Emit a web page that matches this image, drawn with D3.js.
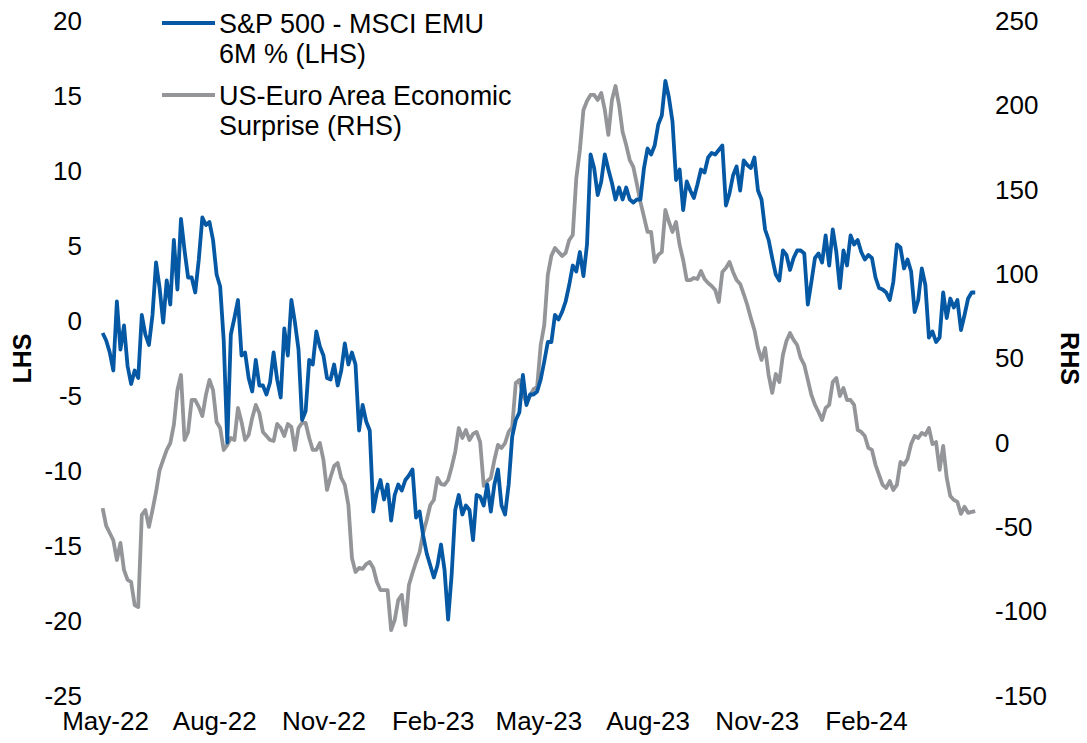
<!DOCTYPE html>
<html>
<head>
<meta charset="utf-8">
<script src="https://cdn.jsdelivr.net/npm/d3@7"></script>
<style>
  body { margin: 0; background: #fff; }
  text { font-family: "Liberation Sans", Arial, sans-serif; fill: #000; }
</style>
</head>
<body>
<div id="chart"></div>
<script>
// daily series sampled every 3 days from 29 Apr 2022
const startDate = "2022-04-29";
const stepDays = 3;

// S&P 500 - MSCI EMU 6M % (LHS)
const spread = [
  -0.8, -1.3, -2.1, -3.3, 1.3, -1.9, -0.3, -3.0, -4.2, -3.3,
  -3.8, 0.4, -0.9, -1.6, 0.4, 3.9, 2.2, -0.1, 2.7, 1.1,
  5.4, 2.1, 6.8, 4.7, 2.9, 2.9, 1.9, 4.1, 6.9, 6.4,
  6.6, 5.4, 3.1, 2.3, -1.3, -8.1, -0.9, 0.2, 1.4, -2.3,
  -2.1, -3.8, -4.7, -2.6, -4.3, -4.3, -4.9, -4.1, -2.1, -3.9,
  -5.1, -0.5, -2.3, 1.4, -0.1, -1.9, -6.6, -6.0, -2.6, -2.9,
  -0.7, -1.7, -2.3, -3.8, -3.9, -2.9, -4.3, -3.3, -1.5, -2.9,
  -2.1, -2.9, -7.3, -5.6, -6.7, -7.3, -12.7, -11.4, -10.6, -11.9,
  -10.9, -13.3, -11.6, -10.9, -11.3, -10.6, -10.3, -9.9, -13.1, -12.7,
  -14.3, -15.5, -16.3, -17.1, -16.3, -14.9, -16.6, -19.9, -16.9, -12.6,
  -11.6, -12.9, -12.3, -12.6, -14.6, -11.6, -11.7, -12.3, -10.9, -12.7,
  -10.9, -9.9, -12.3, -12.9, -10.9, -7.7, -6.6, -6.1, -3.6, -5.6,
  -4.9, -4.9, -4.7, -3.9, -2.7, -1.4, -1.4, 0.4, 0.1, 0.6,
  1.3, 2.4, 3.7, 3.3, 4.6, 3.0, 5.1, 11.1, 10.2, 8.4,
  9.3, 11.1, 10.1, 9.2, 8.1, 8.9, 8.1, 8.9, 8.1, 7.9,
  8.1, 8.1, 10.2, 11.5, 11.1, 11.7, 13.1, 13.7, 16.0, 14.9,
  13.3, 9.4, 10.1, 7.4, 9.3, 8.7, 8.2, 9.1, 10.1, 9.9,
  10.9, 11.2, 11.1, 11.4, 11.7, 7.7, 8.5, 9.7, 10.3, 8.7,
  10.7, 10.4, 10.2, 10.9, 8.7, 8.1, 6.1, 5.4, 4.2, 3.1,
  2.7, 4.7, 4.4, 3.4, 4.2, 4.7, 4.7, 4.5, 1.1, 2.6,
  4.2, 4.5, 3.9, 5.7, 3.7, 6.1, 4.6, 2.2, 4.7, 3.7,
  5.7, 5.1, 5.4, 4.6, 4.1, 4.4, 4.2, 2.9, 2.2, 2.1,
  1.9, 1.4, 2.6, 5.1, 4.9, 3.5, 4.1, 3.3, 0.6, 1.4,
  3.5, 2.4, -1.1, -0.7, -1.4, -1.1, 1.9, 0.2, 1.5, 0.9,
  1.4, -0.6, 0.4, 1.5, 1.9, 1.9
];

// US-Euro Area Economic Surprise (RHS)
const surprise = [
  -38.6, -49.2, -53.4, -57.7, -69.4, -59.3, -75.3, -81.2, -82.4, -96.1,
  -97.3, -42.7, -39.8, -49.8, -39.8, -29.1, -16.1, -10.1, -4.2, -0.1,
  10.6, 31.3, 40.2, 1.7, 6.5, 25.4, 25.4, 21.3, 15.9, 28.4,
  37.3, 31.3, 12.4, 8.8, -4.2, -1.2, 2.9, 1.7, 20.7, 12.4,
  1.7, 4.7, 14.8, 22.5, 17.7, 6.5, 4.1, 1.7, 1.1, 11.2,
  8.8, 4.1, 11.2, 9.4, -4.2, 8.8, 11.8, 11.8, 2.9, -4.2,
  -4.2, -0.1, -10.1, -27.9, -20.2, -13.7, -11.9, -20.8, -24.9, -36.8,
  -68.2, -76.5, -74.1, -74.7, -71.8, -70.6, -74.1, -82.4, -87.2, -87.2,
  -87.2, -110.9, -105.0, -93.1, -90.1, -108.0, -84.2, -77.1, -70.6, -64.7,
  -53.4, -45.7, -36.8, -33.8, -20.8, -24.4, -24.9, -22.0, -14.3, -5.3,
  8.8, 2.9, 7.6, 1.7, 5.3, 6.5, 0.5, -25.5, -22.6, -20.8,
  -10.1, -1.2, -3.0, -0.1, 6.5, 9.4, 35.5, 37.3, 29.0, 23.6,
  27.8, 31.9, 33.1, 58.0, 69.9, 99.5, 110.8, 115.5, 113.1, 110.8,
  112.5, 120.2, 123.2, 157.0, 173.6, 197.3, 202.6, 206.2, 206.2, 203.2,
  207.4, 197.3, 182.5, 203.2, 211.5, 200.2, 184.2, 176.5, 167.6, 163.5,
  153.4, 142.8, 133.9, 125.0, 125.0, 107.2, 111.4, 113.1, 138.0, 130.9,
  125.0, 130.9, 117.3, 108.4, 96.5, 96.5, 97.7, 97.1, 101.9, 97.1,
  94.7, 93.0, 90.6, 83.5, 101.3, 103.6, 107.2, 101.3, 96.5, 94.2,
  88.2, 81.7, 74.0, 66.9, 56.2, 49.1, 56.2, 40.2, 29.6, 40.8,
  36.1, 52.1, 60.4, 65.1, 61.0, 58.0, 50.3, 46.2, 37.3, 28.4,
  22.5, 18.3, 13.6, 20.7, 22.5, 36.1, 38.5, 27.8, 32.5, 25.4,
  25.4, 22.5, 7.6, 6.5, 4.1, -3.0, -4.2, -13.0, -19.0, -24.9,
  -26.7, -22.6, -27.9, -24.9, -11.3, -13.0, -9.5, -0.7, 4.1, 2.9,
  5.9, 4.7, 8.8, -0.7, 0.5, -16.0, -1.8, -20.8, -31.5, -33.8,
  -35.0, -42.1, -37.9, -41.5, -40.9, -40.4
];

// axis ticks
const xTicks = ["2022-05-01", "2022-08-01", "2022-11-01", "2023-02-01",
                "2023-05-01", "2023-08-01", "2023-11-01", "2024-02-01"];
const leftTicks = [20, 15, 10, 5, 0, -5, -10, -15, -20, -25];
const rightTicks = [250, 200, 150, 100, 50, 0, -50, -100, -150];

const seriesNames = [["S&P 500 - MSCI EMU", "6M % (LHS)"],
                     ["US-Euro Area Economic", "Surprise (RHS)"]];

const width = 1087, height = 743;
const plot = {top: 21, bottom: 696};
const blue = "#0558a3", grey = "#939598";

const svg = d3.select("#chart")
  .append("svg")
  .attr("width", width)
  .attr("height", height);

const parse = d3.utcParse("%Y-%m-%d");
const t0 = parse(startDate);
const dates = spread.map((d, i) => d3.utcDay.offset(t0, i * stepDays));

// x: anchored on the May-22 and Feb-24 label centres
const x = d3.scaleUtc()
  .domain([parse("2022-05-01"), parse("2024-02-01")])
  .range([105, 866]);

const yL = d3.scaleLinear().domain([-25, 20]).range([plot.bottom, plot.top]);
const yR = d3.scaleLinear().domain([-150, 250]).range([plot.bottom, plot.top]);

// axes (labels only, no lines); plain hyphen for negatives like the original
const fs = "26px";
const plain = d => String(d);

svg.append("g")
  .attr("transform", "translate(82,0)")
  .call(d3.axisLeft(yL).tickValues(leftTicks).tickFormat(plain).tickSize(0).tickPadding(0))
  .call(g => g.select(".domain").remove())
  .selectAll("text").style("font-size", fs).style("font-family", null);

svg.append("g")
  .attr("transform", "translate(995,0)")
  .call(d3.axisRight(yR).tickValues(rightTicks).tickFormat(plain).tickSize(0).tickPadding(0))
  .call(g => g.select(".domain").remove())
  .selectAll("text").style("font-size", fs).style("font-family", null);

svg.append("g")
  .attr("transform", "translate(0,712)")
  .call(d3.axisBottom(x).tickValues(xTicks.map(parse))
        .tickFormat(d3.utcFormat("%b-%y")).tickSize(0).tickPadding(0))
  .call(g => g.select(".domain").remove())
  .selectAll("text").style("font-size", fs).style("font-family", null);

svg.selectAll(".tick text").attr("fill", "#000");

// axis titles
svg.append("text")
  .attr("transform", `translate(22,${(plot.top + plot.bottom) / 2}) rotate(-90)`)
  .attr("text-anchor", "middle").attr("dy", "0.35em")
  .style("font-size", "25px").style("font-weight", "bold")
  .text("LHS");

svg.append("text")
  .attr("transform", `translate(1070,${(plot.top + plot.bottom) / 2}) rotate(90)`)
  .attr("text-anchor", "middle").attr("dy", "0.35em")
  .style("font-size", "25px").style("font-weight", "bold")
  .text("RHS");

// lines
const lineR = d3.line().x((d, i) => x(dates[i])).y(d => yR(d));
const lineL = d3.line().x((d, i) => x(dates[i])).y(d => yL(d));

svg.append("path")
  .datum(surprise)
  .attr("fill", "none")
  .attr("stroke", grey)
  .attr("stroke-width", 3.8)
  .attr("stroke-linejoin", "round")
  .attr("d", lineR);

svg.append("path")
  .datum(spread)
  .attr("fill", "none")
  .attr("stroke", blue)
  .attr("stroke-width", 3.8)
  .attr("stroke-linejoin", "round")
  .attr("d", lineL);

// legend
const legend = svg.append("g");
[[blue, 23, 33], [grey, 95, 105]].forEach(([c, ly, ty], k) => {
  legend.append("line")
    .attr("x1", 162).attr("x2", 215).attr("y1", ly).attr("y2", ly)
    .attr("stroke", c).attr("stroke-width", 3.8);
  const t = legend.append("text").attr("x", 219).attr("y", ty).style("font-size", "27px");
  seriesNames[k].forEach((s, j) => {
    t.append("tspan").attr("x", 219).attr("y", ty + j * 30).text(s);
  });
});
</script>
</body>
</html>
